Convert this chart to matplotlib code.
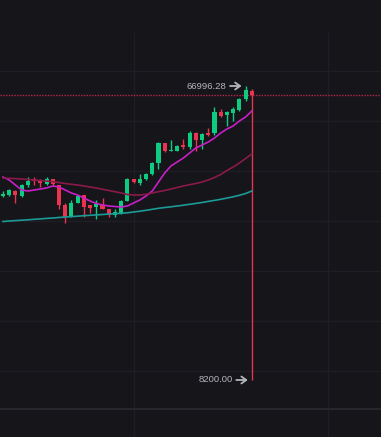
import matplotlib
matplotlib.use("Agg")
import matplotlib.pyplot as plt
import numpy as np

# candle data (open, high, low, close)
opens = [45000, 45260, 46060, 45000, 47140, 48340, 48060, 47400, 48340, 47260,
         43140, 40860, 43660, 45140, 43140, 42860, 43260, 42340, 41260, 41540,
         43940, 48340, 47540, 48340, 49400, 51540, 55540, 53940, 54060, 55140,
         54740, 57540, 56200, 57660, 57660, 61800, 61140, 61660, 62200, 64340,
         65940]
highs = [46000, 46460, 46200, 47400, 48740, 48740, 48460, 48860, 48340, 47260,
         43660, 44200, 45260, 45260, 43140, 44200, 44600, 42460, 42460, 44200,
         48600, 48460, 49400, 49660, 51800, 55800, 55540, 56200, 55140, 56460,
         57940, 57800, 57660, 58600, 62860, 62460, 61940, 62860, 64600, 66996.28,
         66460]
lows = [44800, 45000, 43600, 44860, 46860, 47140, 46860, 47140, 47000, 42460,
        39660, 40740, 43540, 40860, 41660, 40340, 42340, 40860, 40860, 41400,
        43940, 47660, 47260, 48200, 49140, 50460, 53800, 53940, 53940, 54340,
        54460, 54060, 54340, 57000, 57140, 60860, 59000, 59940, 61940, 63940,
        8200.00]
closes = [45500, 46200, 45140, 47140, 48060, 47940, 47540, 48460, 47400, 43140,
          40860, 43660, 45000, 42860, 42600, 43400, 42340, 41140, 41800, 43940,
          48340, 47800, 48340, 49400, 51540, 55540, 54060, 54200, 55000, 54740,
          57540, 56200, 57400, 57140, 61800, 61000, 61800, 62340, 64340, 66140,
          65120]

# moving average lines
ma_short = [48800, 48200, 47200, 46200, 46000, 46200, 46400, 46600, 47000, 46800,
            46200, 45600, 45200, 44600, 44000, 43500, 43200, 43000, 42900, 42800,
            43000, 43600, 44200, 45000, 46000, 47800, 49600, 51000, 51800, 52600,
            53600, 54600, 55200, 55800, 56600, 57600, 58400, 59000, 60000, 60800,
            62000]
ma_mid = [48600, 48540, 48480, 48400, 48300, 48200, 48100, 48000, 47860, 47700,
          47500, 47340, 47200, 47000, 46800, 46600, 46340, 46100, 45860, 45600,
          45300, 45200, 45200, 45340, 45600, 45860, 46100, 46400, 46700, 47000,
          47260, 47500, 47800, 48200, 48700, 49300, 50100, 50800, 51600, 52500,
          53400]
ma_long = [39900, 40000, 40080, 40160, 40240, 40340, 40420, 40520, 40600, 40700,
           40800, 40880, 40960, 41060, 41140, 41220, 41300, 41380, 41460, 41540,
           41640, 41800, 41960, 42140, 42340, 42540, 42700, 42840, 43000, 43160,
           43340, 43520, 43700, 43920, 44120, 44340, 44580, 44840, 45140, 45500,
           46000]

price_levels = [10000, 20000, 30000, 40000, 50000, 60000, 70000]
time_grid = [21.05, 52.25]

BG = "#15151a"
GRID = "#1e1f25"
UP = "#0ecb81"
DOWN = "#e8344e"
LABEL = "#b4b6bd"

fig = plt.figure(figsize=(3.81, 4.37), dpi=100, facecolor=BG)
ax = fig.add_axes([0, 0, 1, 1])
ax.set_facecolor(BG)
ax.set_xlim(-0.48, 60.77)
ax.set_ylim(-3200, 84200)
ax.axis("off")

# grid
for lvl in price_levels:
    ax.axhline(lvl, color=GRID, lw=1, zorder=0)
for t in time_grid:
    ax.axvline(t, ymin=0, ymax=0.9245, color=GRID, lw=1, zorder=0)
ax.plot([0, 1], [0.064, 0.064], transform=ax.transAxes, color="#2a2b31", lw=1.2, zorder=0)

# candles
x = np.arange(len(opens))
o = np.array(opens)
c = np.array(closes)
colors = [UP if cc >= oo else DOWN for oo, cc in zip(o, c)]
ax.vlines(x, lows, highs, colors=colors, lw=1, zorder=2)
body = np.maximum(np.abs(c - o), 250)
ax.bar(x, body, bottom=np.minimum(o, c), width=0.65, color=colors, lw=0, zorder=3)

# moving averages
ax.plot(x, ma_short, color="#c81fc8", lw=1.2, zorder=4)
ax.plot(x, ma_mid, color="#8a1a4a", lw=1.2, zorder=4)
ax.plot(x, ma_long, color="#1b9a96", lw=1.2, zorder=4)

# last price line
ax.axhline(closes[-1], color="#b8284a", lw=1.0, ls=(0, (1, 1)), zorder=1)

# high / low marks
hi_i = int(np.argmax(highs))
lo_i = int(np.argmin(lows))
for i, v in [(hi_i, highs[hi_i]), (lo_i, lows[lo_i])]:
    ax.annotate("", xy=(i, v), xytext=(-11.2, 0), textcoords="offset points",
                arrowprops=dict(arrowstyle="->,head_length=0.35,head_width=0.25",
                                color=LABEL, lw=1.3, shrinkA=0, shrinkB=2.9),
                zorder=5)
    ax.annotate(f"{v:.2f}", xy=(i, v), xytext=(-13.6, 0), textcoords="offset points",
                ha="right", va="center", fontsize=6.8, color=LABEL,
                family="Liberation Sans", zorder=5)

fig.savefig("out.png", dpi=100, facecolor=BG)
